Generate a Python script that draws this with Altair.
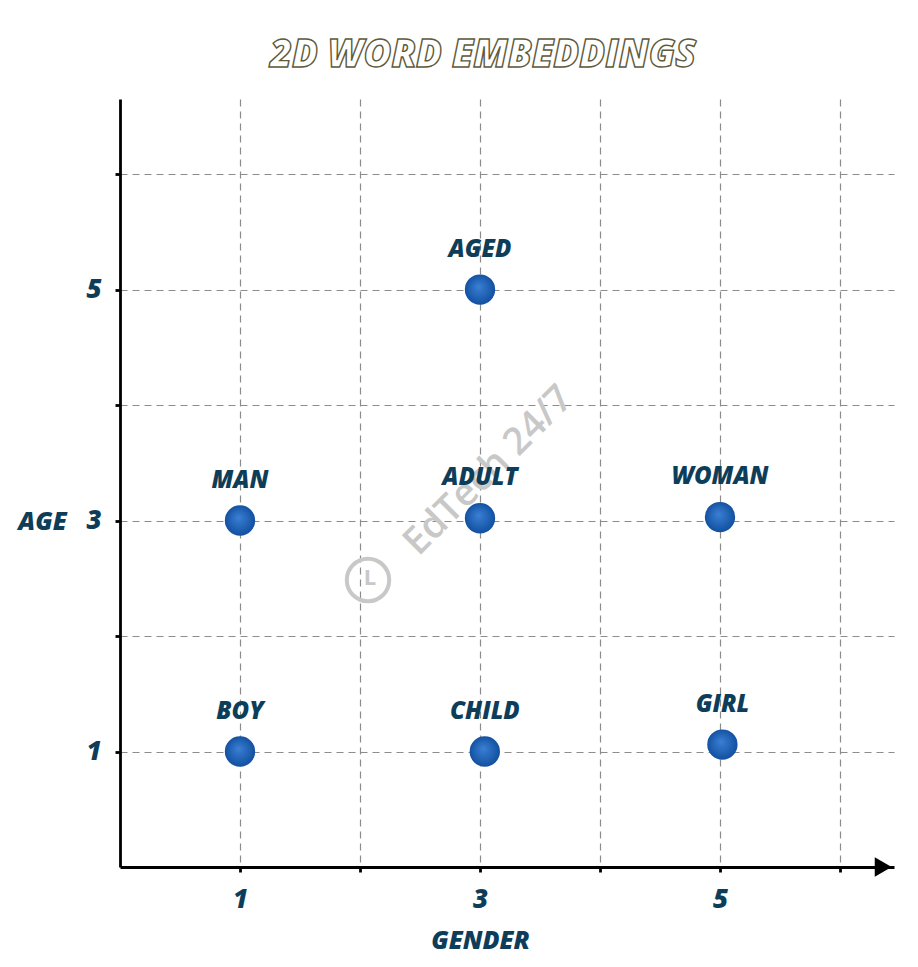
import altair as alt
import pandas as pd

words = ["AGED", "MAN", "ADULT", "WOMAN", "BOY", "CHILD", "GIRL"]
gender = [3.0, 1.0, 3.0, 5.0, 1.0, 3.04, 5.02]
age = [5.0, 3.0, 3.02, 3.03, 1.0, 1.0, 1.06]

df = pd.DataFrame({"word": words, "gender": gender, "age": age})

W, H = 774, 768
XMAX, YMAX = 6.45, 6.65
TXT = "#0e3d5a"
FONT = "Open Sans"

xs = alt.Scale(domain=[0, XMAX], nice=False, zero=True)
ys = alt.Scale(domain=[0, YMAX], nice=False, zero=True)

base = alt.Chart(df)

common = dict(
    values=[1, 2, 3, 4, 5, 6],
    format="d",
    labelExpr="datum.value % 2 == 1 ? datum.label : ''",
    grid=True, gridDash=[7, 5], gridColor="#8c8c8c", gridWidth=1.2,
    domainColor="black", domainWidth=2.8,
    tickColor="black", tickSize=5, tickWidth=2.8,
    labelFont=FONT, labelFontSize=26, labelFontWeight=800, labelFontStyle="italic",
    labelColor=TXT,
    titleFont=FONT, titleFontSize=25, titleFontWeight=800,
    titleFontStyle="italic", titleColor=TXT,
    titleBaseline="middle", titleAlign="center",
)

xaxis = alt.Axis(labelPadding=14, title="GENDER", titleX=360, titleY=73, **common)
yaxis = alt.Axis(labelPadding=14, title="AGE", titleAngle=0, titleX=-78, titleY=422, **common)

grad = alt.RadialGradient(
    gradient="radial",
    stops=[alt.GradientStop(offset=0, color="#3a80d4"),
           alt.GradientStop(offset=1, color="#0f4c9c")],
    x1=0.45, y1=0.4, x2=0.5, y2=0.5, r1=0, r2=0.55,
)

points = base.mark_point(filled=True, shape="circle", size=920, fill=grad, opacity=1, strokeWidth=0).encode(
    x=alt.X("gender:Q", scale=xs, axis=xaxis),
    y=alt.Y("age:Q", scale=ys, axis=yaxis),
)

labels = base.mark_text(
    dy=-40, font=FONT, fontSize=24, fontWeight=800, fontStyle="italic", color=TXT
).encode(x="gender:Q", y="age:Q", text="word:N")

arrow = alt.Chart(pd.DataFrame({"x": [XMAX - 0.09], "y": [0]})).mark_point(
    shape="triangle-right", filled=True, color="black", size=380, opacity=1, clip=False
).encode(x=alt.X("x:Q", scale=xs), y=alt.Y("y:Q", scale=ys))

title = alt.Chart(pd.DataFrame({"t": ["2D WORD EMBEDDINGS"]})).mark_text(
    font=FONT, fontSize=38, fontWeight=800, fontStyle="italic",
    fill="white", stroke="#5e5a3a", strokeWidth=1.4, baseline="middle", align="center"
).encode(x=alt.value(363), y=alt.value(-43), text="t:N")

wm = alt.Chart(pd.DataFrame({"t": ["EdTech 24/7"]})).mark_text(
    font=FONT, fontSize=38, fontWeight=600, color="#c8c8c8", angle=315, baseline="middle", align="center"
).encode(x=alt.value(369), y=alt.value(372), text="t:N")

wm_circle = alt.Chart(pd.DataFrame({"a": [0]})).mark_point(
    shape="circle", size=1800, stroke="#c8c8c8", strokeWidth=4, filled=False, opacity=1
).encode(x=alt.value(248), y=alt.value(481))

wm_hand = alt.Chart(pd.DataFrame({"t": ["L"]})).mark_text(
    font=FONT, fontSize=22, fontWeight="bold", color="#c8c8c8", baseline="middle", align="center"
).encode(x=alt.value(250), y=alt.value(479), text="t:N")

chart = alt.layer(wm, wm_circle, wm_hand, points, labels, arrow, title).properties(
    width=W, height=H,
    autosize="none",
    padding={"left": 112, "top": 91, "right": 16, "bottom": 92},
).configure_view(stroke=None)

chart.save("out.html", embed_options={"renderer": "svg", "actions": False})
